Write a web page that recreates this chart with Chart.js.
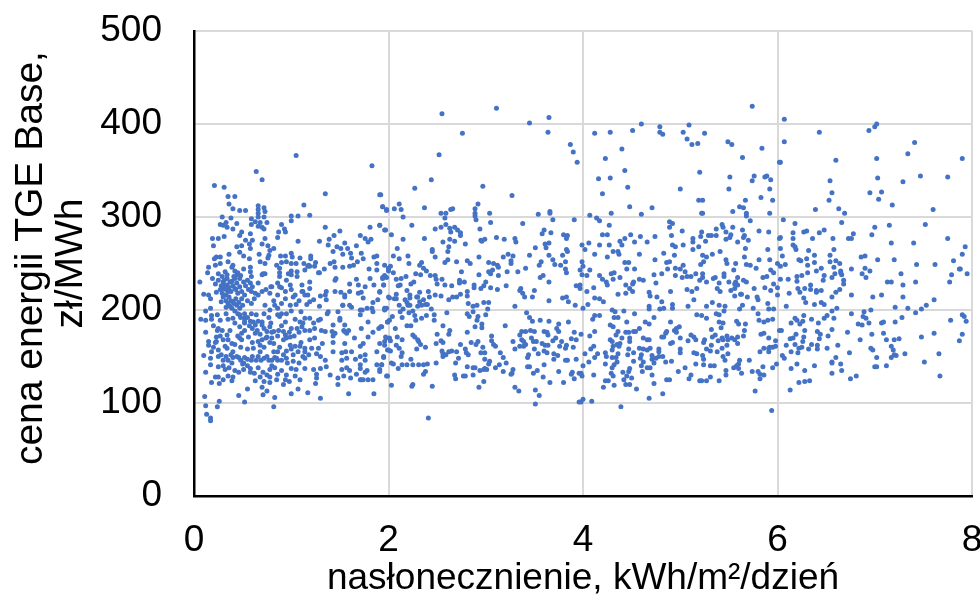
<!DOCTYPE html>
<html>
<head>
<meta charset="utf-8">
<script src="https://cdn.jsdelivr.net/npm/chart.js@4"></script>
<style>
  html, body { margin: 0; padding: 0; background: #fff; }
  #wrap { width: 980px; height: 597px; }
</style>
</head>
<body>
<div id="wrap"><canvas id="priceChart" width="980" height="597"></canvas></div>
<script>
// [insolation kWh/m2/day, price zl/MWh], section by section
const topRightPoints = [[6.07,405],[6.43,391],[6.07,381],[6.94,393],[7.0,397],[7.02,400],[7.41,380],[7.34,368],[7.9,363],[7.02,363],[6.6,361],[6.03,359],[6.54,339],[7.03,342],[7.29,338],[7.47,344],[7.75,343],[6.56,326],[6.53,318],[6.95,326],[7.07,327],[7.04,319],[7.18,313],[6.39,308],[6.63,309],[6.69,304],[7.6,308],[6.06,297],[6.18,293],[6.66,294],[7.0,289],[7.15,291],[7.52,292],[6.27,284],[6.3,285],[6.48,286],[6.43,283],[6.78,282],[6.97,281],[6.36,277],[6.16,277],[6.16,283],[6.57,277],[6.73,277],[6.76,277],[6.03,278],[7.17,272],[7.4,272],[7.75,277],[7.93,268],[6.16,270],[6.18,268],[6.19,265],[6.03,266],[6.32,264],[6.58,265]];
const lowerRightPoints = [[6.05,258],[6.38,259],[6.54,259],[6.86,257],[6.9,258],[6.3,255],[6.22,254],[6.24,253],[7.03,254],[7.2,254],[7.9,260],[6.54,252],[6.6,253],[6.64,250],[6.38,251],[6.31,248],[6.08,249],[6.03,247],[7.43,249],[7.62,249],[7.81,253],[6.45,245],[6.58,246],[6.9,245],[6.95,242],[6.76,244],[7.88,244],[7.87,244],[6.4,242],[6.31,240],[6.65,242],[6.65,240],[6.66,238],[6.59,239],[6.56,235],[6.48,237],[6.25,237],[6.2,236],[6.87,239],[6.91,235],[7.27,239],[7.79,238],[7.95,239],[6.47,232],[6.11,233],[6.03,233],[6.2,231],[6.68,232],[6.68,228],[7.13,230],[7.17,230],[7.29,227],[7.42,230],[7.77,230],[6.34,227],[6.21,223],[6.28,223],[6.34,222],[6.4,221],[6.4,219],[6.45,221],[6.23,219],[6.64,222],[6.6,219],[6.12,218],[6.56,214],[6.76,216],[6.98,214],[7.07,216],[7.29,214],[6.27,213],[7.61,211],[6.45,208],[6.48,206],[6.38,206],[6.29,208],[6.09,204],[6.56,199],[6.61,202],[7.21,203],[7.34,202],[7.53,205],[7.48,201],[7.42,197],[6.89,198],[6.96,200],[6.76,196],[6.27,194],[6.51,194],[6.48,191],[6.58,191],[6.35,190],[6.18,191],[6.2,189],[6.88,193],[6.91,191],[7.28,192],[7.9,195],[7.92,193],[7.78,189],[7.94,188],[6.26,188],[6.14,186],[6.23,185],[6.42,186],[6.83,185],[6.87,184],[6.94,186],[7.07,186],[7.09,187],[7.21,187],[6.56,179],[6.28,178],[6.04,178],[6.41,177],[6.44,174],[6.19,174],[6.52,172],[6.72,176],[6.97,174],[7.09,175],[7.61,175],[7.9,174],[6.27,171],[6.43,169],[6.13,169],[6.16,170],[6.26,166],[6.85,168],[7.12,168],[7.2,168],[7.25,169],[7.48,171],[7.87,167],[6.09,162],[6.18,163],[6.35,163],[6.41,162],[6.41,158],[6.62,162],[6.51,159],[6.25,160],[6.22,159],[6.32,158],[7.17,161],[6.96,159],[6.98,157],[7.19,157],[6.14,155],[6.21,154],[6.74,154],[7.31,153],[7.66,153],[7.2,152],[7.22,151],[7.17,149],[6.05,151],[6.07,148],[6.6,149],[7.02,149],[7.51,144],[6.56,144],[6.56,143],[6.65,142],[6.2,142],[6.38,140],[7.0,139],[7.02,139],[7.12,140],[6.14,137],[6.28,135],[6.66,135],[6.56,132],[6.81,129],[6.75,126],[7.67,129],[6.22,122],[6.28,123],[6.33,124],[6.13,114]];
const topMiddlePoints = [[5.74,419],[4.12,390],[4.28,391],[4.51,393],[4.6,400],[4.79,397],[4.79,391],[4.82,389],[5.03,391],[5.09,399],[5.25,390],[5.07,384],[5.12,378],[5.18,379],[5.49,381],[5.53,378],[5.84,374],[4.4,373],[5.64,364],[6.02,359],[4.23,363],[4.43,350],[5.2,348],[4.16,341],[4.28,342],[5.51,343],[5.76,344],[5.74,339],[5.87,343],[5.89,344],[5.93,340],[4.46,332],[5.0,330],[5.5,330],[5.92,330],[4.2,325],[5.19,318],[5.23,318],[5.67,318],[5.83,321],[5.95,318],[4.48,311],[4.71,310],[5.61,311],[5.65,310],[4.29,304],[4.6,303],[5.22,304],[5.23,304],[5.54,306],[5.68,304],[5.68,301],[5.92,304],[4.07,302],[4.14,299],[4.17,296],[5.72,296],[4.89,295],[4.92,293],[4.89,289],[4.27,291],[5.02,285],[5.43,292],[5.37,287],[5.44,289],[5.54,289],[5.64,286],[5.81,285],[5.91,284],[5.22,284],[5.47,284],[4.2,281],[4.25,281],[4.49,281],[4.59,279],[4.74,279],[4.91,280],[5.21,279],[5.29,280],[5.32,280],[5.37,280],[5.52,281],[5.51,278],[5.47,276],[5.66,280],[5.65,278],[4.43,277],[5.13,277],[6.02,277],[4.38,274],[4.4,270],[4.53,273],[4.66,273],[4.06,272],[3.99,270],[4.17,270],[4.27,270],[5.13,273],[5.26,274],[5.59,273],[5.7,275],[4.92,270],[4.95,268],[5.03,270],[5.19,268],[5.67,266],[5.13,265],[5.9,265],[4.02,265]];
const lowerMiddlePoints = [[4.12,260],[4.25,257],[4.31,263],[4.36,263],[4.37,260],[4.58,260],[4.83,261],[4.94,259],[4.74,254],[4.86,251],[4.89,252],[5.23,259],[5.27,257],[5.33,260],[5.47,254],[5.48,250],[5.41,263],[5.66,257],[5.81,254],[5.92,254],[3.99,252],[4.43,251],[4.47,251],[5.24,252],[5.21,249],[5.57,250],[5.68,249],[5.72,248],[6.0,250],[4.0,247],[3.97,243],[4.07,243],[4.45,244],[4.53,244],[4.87,244],[5.03,248],[5.0,244],[4.95,245],[5.05,241],[4.29,239],[4.32,240],[4.04,237],[3.99,238],[4.17,237],[4.38,235],[4.73,238],[4.81,239],[5.16,239],[5.23,239],[5.23,235],[5.45,239],[5.45,236],[5.59,235],[5.78,245],[5.55,243],[5.85,235],[5.89,236],[5.93,243],[5.96,240],[4.95,237],[5.02,235],[5.07,236],[5.11,236],[4.31,233],[4.2,233],[4.24,230],[4.25,227],[4.58,233],[4.62,232],[5.2,232],[5.27,230],[5.34,234],[5.36,235],[5.5,230],[5.57,230],[5.65,232],[5.68,230],[5.4,229],[4.75,229],[4.52,230],[4.51,228],[4.44,227],[3.97,227],[4.11,224],[4.48,223],[4.51,220],[5.17,223],[5.12,220],[5.07,222],[5.38,223],[5.41,220],[5.52,221],[5.56,223],[5.59,227],[5.56,228],[5.76,223],[5.87,224],[5.93,221],[5.96,228],[6.0,224],[4.04,220],[4.9,220],[4.36,217],[4.44,218],[4.68,219],[4.69,215],[4.76,214],[5.62,217],[5.63,217],[5.56,215],[6.0,216],[4.12,213],[4.17,212],[4.21,209],[4.81,209],[5.14,211],[5.69,214],[5.79,214],[5.8,211],[4.05,206],[4.0,202],[4.92,206],[4.92,202],[5.33,208],[5.4,205],[5.64,205],[5.9,207],[4.68,204],[4.68,201],[4.79,201],[4.83,202],[5.08,204],[5.27,204],[5.46,204],[5.45,199],[5.61,201],[5.75,202],[5.91,201],[5.96,201],[4.3,200],[4.33,198],[4.42,199],[4.53,196],[5.37,196],[5.4,195],[5.8,196],[5.17,195],[5.22,194],[5.27,191],[4.12,194],[4.17,194],[4.1,190],[4.32,192],[4.36,192],[4.73,192],[4.45,187],[4.64,187],[4.68,185],[4.9,187],[5.81,189],[5.86,187],[5.9,189],[5.95,190],[5.4,187],[5.44,186],[5.58,188],[5.6,185],[5.67,185],[5.42,181],[4.28,184],[4.31,182],[4.58,180],[4.99,182],[4.96,180],[4.94,178],[4.96,176],[5.32,179],[5.66,178],[4.44,176],[4.47,176],[4.52,177],[4.54,177],[4.12,177],[4.36,177],[4.86,177],[4.85,175],[3.98,174],[4.07,172],[5.83,174],[5.86,175],[6.02,178],[4.34,173],[5.11,173],[5.14,171],[5.16,168],[4.81,171],[4.83,171],[5.0,170],[5.36,173],[5.33,171],[5.39,167],[5.43,170],[5.44,168],[5.48,172],[5.49,168],[5.53,170],[5.56,168],[5.59,171],[5.59,164],[5.65,172],[4.62,170],[4.66,168],[4.68,168],[4.4,170],[4.48,170],[4.48,166],[5.91,170],[4.28,168],[4.3,166],[4.35,163],[4.38,164],[5.08,167],[5.25,168],[5.24,165],[4.9,164],[4.92,165],[5.98,167],[4.31,161],[4.37,161],[4.3,157],[5.48,162],[5.43,159],[5.32,162],[5.86,159],[5.91,159],[5.92,160],[5.95,160],[5.98,161],[4.11,161],[4.08,158],[4.58,159],[4.62,158],[4.69,159],[4.66,157],[4.78,158],[4.78,155],[4.82,150],[4.47,158],[4.52,154],[5.0,158],[5.0,154],[5.27,158],[5.31,156],[5.38,155],[5.82,155],[5.91,155],[4.02,153],[4.15,153],[4.12,149],[4.23,154],[4.24,150],[4.36,153],[4.34,149],[4.3,149],[4.46,152],[4.6,152],[4.59,148],[4.71,151],[4.71,147],[4.75,148],[4.78,150],[5.14,154],[5.17,153],[5.23,151],[5.24,147],[5.49,153],[5.44,150],[5.46,146],[4.06,144],[4.23,142],[4.52,145],[4.62,144],[4.73,143],[4.85,144],[4.91,145],[5.16,142],[5.24,141],[5.31,140],[5.35,140],[5.71,146],[5.61,146],[5.6,142],[5.58,140],[5.55,138],[5.6,137],[4.35,144],[4.32,141],[4.3,138],[4.0,140],[4.48,137],[4.47,134],[4.6,140],[4.66,138],[4.69,138],[5.05,138],[5.85,139],[5.95,138],[5.99,142],[4.98,134],[4.61,134],[4.41,133],[4.5,127],[4.45,129],[4.42,125],[4.71,130],[5.11,130],[5.09,126],[5.31,128],[5.47,135],[5.47,130],[5.63,132],[5.74,134],[5.8,134],[5.82,131],[5.86,130],[5.82,126],[4.29,132],[4.31,129],[3.98,132],[3.99,129],[4.11,130],[4.23,124],[4.26,124],[5.2,124],[5.22,124],[5.27,124],[5.4,124],[4.86,125],[4.89,125],[4.73,121],[4.44,120],[4.48,120],[4.32,119],[4.21,117],[4.55,115],[5.77,113],[4.82,110],[4.68,105],[4.0,104],[3.98,101],[4.09,102],[4.39,96],[5.94,92]];
const topCentrePoints = [[2.55,411],[3.11,417],[3.45,401],[3.65,407],[3.64,391],[2.76,390],[3.87,378],[3.9,370],[3.94,359],[2.52,367],[2.44,340],[2.27,331],[2.97,333],[3.27,323],[1.91,324],[2.92,314],[2.37,310],[2.11,314],[1.94,311],[2.06,309],[2.13,308],[1.98,308],[2.15,300],[2.89,309],[2.89,304],[2.89,301],[2.9,297],[2.54,304],[2.59,304],[2.64,308],[2.66,309],[2.58,299],[3.04,304],[3.05,294],[3.54,303],[3.66,306],[3.66,304],[3.69,297],[3.91,297],[2.59,292],[2.24,291],[1.91,291],[2.54,289],[2.48,287],[2.63,288],[2.64,284],[2.68,289],[2.71,286],[2.74,283],[2.74,280],[2.94,287],[3.38,293],[3.6,286],[3.58,282],[3.67,283],[1.96,286],[2.03,281],[3.8,281],[3.84,280],[3.83,277],[2.15,276],[2.37,277],[2.63,276],[2.68,274],[2.56,273],[2.95,275],[2.99,276],[2.96,274],[3.11,278],[3.19,276],[3.3,277],[3.31,273],[2.79,271],[2.62,268],[3.61,271],[3.65,272],[3.51,267],[3.62,267],[2.09,266],[2.45,265],[3.83,265]];
const lowerCentrePoints = [[2.05,258],[2.11,255],[2.2,258],[2.48,257],[2.45,263],[2.61,263],[2.93,257],[2.7,252],[2.58,251],[2.61,254],[2.81,253],[2.84,250],[3.03,251],[3.18,257],[3.23,260],[3.28,258],[3.45,259],[3.26,253],[3.26,250],[3.65,259],[3.69,254],[3.71,249],[3.77,248],[3.79,259],[3.84,263],[3.82,252],[3.82,244],[3.83,240],[3.57,252],[3.55,248],[3.41,245],[3.33,241],[3.22,241],[3.08,250],[3.12,248],[3.13,246],[3.07,243],[3.03,241],[3.05,239],[3.13,237],[2.21,250],[2.34,251],[2.32,248],[2.36,245],[2.39,242],[2.43,237],[1.96,248],[2.02,247],[2.0,244],[2.0,242],[2.05,240],[2.75,241],[2.28,239],[2.33,238],[2.93,238],[1.96,237],[1.94,234],[2.18,236],[2.13,234],[2.08,233],[2.12,227],[2.1,226],[2.26,230],[2.23,228],[1.95,227],[2.48,237],[2.49,233],[2.5,228],[2.55,233],[2.58,227],[2.65,226],[2.73,232],[2.73,229],[2.78,230],[2.88,227],[2.88,224],[2.98,226],[3.0,230],[2.95,223],[3.05,224],[3.12,222],[3.21,226],[3.59,237],[3.56,235],[3.65,230],[3.93,226],[3.97,223],[3.36,223],[3.35,221],[3.38,218],[3.4,214],[3.5,221],[3.48,214],[1.91,220],[2.19,221],[2.22,216],[2.22,213],[2.32,219],[2.29,214],[2.3,214],[2.41,220],[2.42,214],[2.48,216],[2.54,215],[2.01,213],[2.06,212],[2.08,217],[2.08,212],[2.17,211],[2.19,208],[2.22,205],[2.11,205],[2.32,209],[2.36,211],[2.34,205],[2.38,206],[2.4,206],[2.3,204],[2.2,205],[2.62,211],[2.66,214],[2.7,214],[2.74,217],[2.81,220],[2.81,215],[2.82,207],[2.98,208],[3.03,208],[3.02,201],[2.87,204],[2.91,205],[2.87,198],[3.3,204],[3.65,210],[3.79,213],[3.83,214],[3.85,209],[3.92,205],[1.96,202],[1.98,202],[2.15,201],[2.12,198],[2.21,197],[2.25,199],[2.44,201],[2.39,194],[2.47,195],[2.47,189],[2.27,194],[2.28,189],[2.34,191],[2.14,192],[2.04,193],[2.01,189],[1.99,187],[2.6,197],[2.81,196],[2.83,193],[2.92,193],[2.91,189],[3.0,195],[3.42,197],[3.45,192],[3.48,188],[3.56,189],[3.65,188],[3.75,185],[3.85,187],[1.92,182],[2.07,180],[2.19,183],[2.23,183],[2.56,183],[2.89,182],[2.96,185],[2.96,181],[3.2,183],[3.37,177],[3.41,177],[3.46,178],[3.5,177],[3.35,173],[3.6,177],[3.63,176],[3.64,173],[3.73,180],[3.75,177],[3.91,176],[2.63,178],[2.62,174],[2.5,174],[2.81,176],[2.25,173],[2.27,171],[2.3,168],[2.31,166],[2.33,163],[2.38,160],[2.09,171],[2.14,168],[2.01,170],[1.97,171],[1.91,164],[2.02,167],[1.96,162],[2.49,164],[2.54,167],[2.56,165],[2.74,163],[2.85,165],[2.92,166],[2.9,163],[3.06,172],[3.06,167],[3.08,163],[3.1,161],[3.28,166],[3.3,158],[3.37,168],[3.39,166],[3.41,163],[3.35,161],[3.39,161],[3.47,170],[3.49,166],[3.52,166],[3.58,164],[3.61,162],[3.64,162],[3.69,167],[3.72,170],[3.78,166],[3.88,169],[3.93,168],[3.83,162],[3.76,161],[3.82,159],[3.9,160],[2.08,162],[2.11,159],[1.99,157],[2.02,156],[2.29,158],[2.55,156],[2.56,153],[2.56,150],[2.59,152],[2.62,155],[2.65,156],[2.7,155],[2.79,158],[2.8,154],[2.82,152],[2.97,160],[2.95,154],[2.99,154],[3.15,154],[3.18,149],[3.5,158],[3.54,153],[3.6,156],[3.63,154],[3.44,152],[3.43,149],[3.7,153],[3.74,151],[3.7,147],[3.82,146],[3.84,146],[3.93,147],[2.14,154],[2.13,150],[1.95,150],[2.23,147],[2.72,148],[2.69,143],[2.99,147],[3.04,145],[3.03,142],[2.99,137],[3.21,143],[3.6,141],[3.45,139],[3.43,139],[2.03,143],[2.05,142],[2.14,141],[2.19,141],[2.25,141],[2.31,141],[2.36,141],[2.4,142],[2.49,143],[1.93,141],[2.1,137],[2.81,139],[2.87,138],[2.89,138],[3.1,138],[3.14,141],[3.18,134],[2.94,135],[3.01,136],[2.98,136],[3.28,136],[3.27,132],[3.26,131],[3.53,135],[3.49,132],[3.59,128],[3.75,134],[3.88,131],[3.89,133],[3.96,132],[3.91,126],[1.91,134],[1.99,129],[2.38,134],[2.36,131],[2.68,130],[2.69,126],[2.77,129],[2.79,129],[2.87,130],[2.98,123],[2.93,117],[3.66,122],[3.8,122],[2.03,119],[2.25,120],[2.24,118],[2.45,118],[3.3,117],[3.34,113],[3.51,114],[3.55,108],[3.51,99],[3.96,101],[2.41,84]];
const topLeftPoints = [[1.05,366],[0.64,349],[1.83,355],[0.7,340],[0.21,334],[0.31,332],[1.35,325],[0.35,322],[0.42,322],[1.92,324],[0.36,314],[0.4,309],[0.47,307],[0.53,307],[0.66,312],[0.66,308],[0.72,310],[0.73,306],[1.13,313],[1.94,311],[1.98,307],[0.66,304],[0.66,300],[0.72,300],[1.0,301],[1.07,301],[1.19,302],[0.29,300],[0.38,299],[0.59,298],[1.0,296],[0.27,292],[0.3,291],[0.33,294],[0.34,289],[0.4,287],[0.44,293],[0.59,292],[0.63,295],[0.68,294],[0.75,294],[0.66,290],[0.7,289],[0.72,287],[0.9,292],[0.87,284],[0.93,287],[0.94,284],[1.35,289],[1.5,285],[1.44,280],[1.39,276],[1.81,289],[1.91,291],[1.97,286],[0.49,284],[0.47,280],[0.58,282],[0.86,278],[0.19,277],[0.25,277],[0.31,279],[0.53,275],[0.6,275],[0.73,277],[1.07,274],[1.29,274],[1.71,280],[1.76,277],[1.82,276],[1.79,273],[0.2,269],[0.44,268],[0.49,269],[0.57,271],[0.58,266],[0.7,271],[0.76,269],[0.82,266],[1.38,270],[1.47,268],[1.51,266],[1.55,272],[1.58,266],[1.67,269],[0.47,262],[0.51,258],[0.57,255],[0.78,264],[0.77,259],[0.76,256],[0.73,250],[0.36,260],[0.35,252],[0.23,257],[0.21,255],[0.27,257],[1.43,263],[1.53,260],[1.61,261],[1.62,256],[1.72,261],[1.74,255],[1.85,257],[1.88,258],[1.88,250],[0.67,260],[0.68,252],[0.89,258],[0.94,258],[1.0,261],[1.01,257],[1.09,256],[1.2,258],[1.2,255],[0.9,251],[0.95,252],[1.0,250],[1.05,250],[1.13,250],[1.18,248],[1.25,251],[1.24,247],[1.4,250],[1.44,252],[1.45,246],[0.27,250],[0.22,248],[0.15,246],[0.4,248],[0.39,246],[0.58,246],[0.85,248],[0.88,245],[0.88,240],[1.19,247],[1.14,243],[1.17,247],[1.34,244],[1.29,240],[1.53,246],[1.6,247],[1.64,248],[1.68,252],[0.25,239],[0.32,241],[0.34,238],[0.42,242],[0.44,238],[0.51,244],[0.58,241],[0.71,239],[0.73,239],[0.97,239],[1.0,242],[1.06,241],[1.8,244],[1.88,243],[2.0,245],[0.14,240],[1.28,240],[0.19,234],[0.34,234],[0.42,234],[0.47,234],[0.59,236],[0.7,238],[0.88,236],[1.0,238],[1.06,236],[1.46,234],[1.67,233],[1.81,234],[1.94,235],[1.98,235]];
const lowerLeftPoints = [[0.06,230],[0.22,228],[0.3,230],[0.34,227],[0.39,231],[0.44,229],[0.51,230],[0.58,229],[0.66,229],[0.79,225],[0.86,229],[0.88,225],[0.99,227],[1.11,227],[1.19,230],[1.19,223],[1.45,232],[1.6,228],[1.69,227],[1.76,225],[1.85,227],[1.95,227],
  [0.1,217],[0.15,216],[0.17,212],[0.23,219],[0.29,218],[0.3,223],[0.33,216],[0.35,220],[0.42,223],[0.49,220],[0.52,216],[0.59,220],[0.66,216],[0.7,220],[0.74,222],[0.78,218],[0.86,216],[0.94,220],[1.0,222],[1.04,216],[1.11,220],[1.14,216],[1.17,216],[1.36,220],[1.35,216],[1.51,219],[1.55,216],[1.6,220],[1.69,218],[1.72,219],[1.74,213],[1.91,219],[2.0,214],[1.23,211],[1.36,211],[1.53,205],[1.55,214],
  [0.17,202],[0.28,209],[0.35,207],[0.4,209],[0.44,205],[0.39,202],[0.47,202],[0.59,207],[0.73,205],[0.83,205],[0.86,202],[0.99,205],[1.05,206],[1.16,206],[1.19,209],[1.29,204],[1.53,205],[1.48,198],[1.62,203],[1.71,200],[1.78,202],[1.84,208],[1.89,211],[1.83,202],[1.96,200],
  [0.12,199],[0.18,194],[0.07,190],[0.12,189],[0.18,190],[0.24,195],[0.27,189],[0.33,196],[0.35,190],[0.4,191],[0.47,195],[0.52,196],[0.59,196],[0.64,195],[0.52,191],[0.7,187],[0.77,192],[0.86,195],[0.9,196],[0.95,196],[1.0,199],[1.1,198],[0.88,193],[1.09,187],[1.14,191],[1.19,191],[1.28,189],[1.37,196],[1.38,198],[1.5,191],[1.73,200],[1.71,195],[1.79,187],[1.99,187],[1.84,198],
  [0.2,183],[0.29,178],[0.24,178],[0.34,173],[0.42,186],[0.47,182],[0.52,186],[0.57,183],[0.61,187],[0.65,178],[0.7,184],[0.75,177],[0.82,177],[0.87,178],[0.92,177],[1.0,180],[1.06,180],[1.11,182],[1.14,178],[1.23,186],[1.24,180],[1.31,178],[1.35,177],[1.42,177],[1.43,184],[1.5,189],[1.55,184],[1.54,178],[1.59,178],[1.57,175],[1.72,180],[1.84,176],[1.9,180],[1.93,182],[0.12,176],[0.25,180],[0.37,178],[0.49,175],[0.63,175],[0.79,186],[0.94,173],[0.99,171],[1.19,178],
  [0.23,171],[0.15,166],[0.23,166],[0.15,162],[0.35,168],[0.39,164],[0.32,161],[0.47,170],[0.49,168],[0.56,171],[0.66,166],[0.7,168],[0.68,162],[0.61,159],[0.75,171],[0.8,176],[0.92,168],[0.95,170],[0.82,164],[0.99,162],[1.04,161],[1.09,161],[1.14,159],[1.19,168],[1.24,170],[1.32,164],[1.43,165],[1.43,172],[1.55,164],[1.55,177],[1.74,164],[1.71,161],[1.79,171],[1.96,166],[1.98,170],
  [0.18,155],[0.25,157],[0.17,148],[0.1,151],[0.34,159],[0.4,155],[0.25,150],[0.3,146],[0.35,146],[0.4,149],[0.46,149],[0.52,149],[0.59,146],[0.64,146],[0.69,146],[0.68,155],[0.82,155],[0.86,155],[0.83,149],[0.92,152],[0.95,148],[0.77,146],[0.86,146],[1.02,152],[1.07,155],[1.14,155],[1.21,159],[1.28,159],[1.26,153],[1.35,146],[1.43,155],[1.52,154],[1.56,155],[1.62,155],[1.52,146],[1.57,148],[1.66,147],[1.71,150],[1.76,152],[1.76,146],[1.88,155],[1.95,149],[2.0,157],[1.14,148],
  [0.17,141],[0.25,139],[0.32,136],[0.39,143],[0.46,133],[0.51,136],[0.58,137],[0.58,133],[0.66,138],[0.71,133],[0.78,136],[0.86,131],[0.83,138],[1.0,137],[1.05,136],[1.14,137],[1.23,136],[1.3,137],[1.36,139],[1.52,136],[1.57,138],[1.71,141],[1.71,137],[1.78,135],[1.88,141],[1.93,141],[1.98,129],[0.12,133],[0.22,128],[0.25,128],[0.3,125],[0.35,129],[0.4,128],[0.51,143],[0.78,128],[0.85,125],[1.04,129],[1.26,131],[1.26,127],[1.48,127],[1.54,129],[1.61,127],[1.67,131],[1.76,133],[1.71,125],[1.74,125],[1.79,125],[1.84,125],[1.91,136],
  [0.18,122],[0.26,121],[0.39,124],[0.63,124],[0.72,123],[0.78,122],[0.94,125],[0.92,120],[0.98,123],[1.09,125],[1.25,121],[1.48,120],[1.72,125],[0.55,115],[0.7,117],[0.75,113],[0.71,109],[0.83,106],[1.0,110],[1.07,115],[1.17,111],[1.59,110],[1.85,110],[0.11,107],[0.26,102],[0.46,108],[0.52,101],[1.3,105],[0.12,97],[0.24,96],[0.82,96],[0.13,88],[0.17,84],[0.17,81]];
// the thick cluster at low insolation, where single dots run together
const denseLeftPoints = [[0.31,226],[0.33,222],[0.36,224],[0.38,220],[0.4,226],[0.43,222],[0.45,218],[0.47,225],[0.49,212],[0.36,214],[0.38,210],[0.41,207],[0.43,212],[0.46,208],[0.33,210],[0.3,214],[0.27,222],[0.28,226],[0.25,232],[0.29,236],[0.31,232],[0.37,230],[0.41,236],[0.45,240],[0.48,237],[0.53,226],[0.55,232],[0.56,222],[0.6,225],[0.63,218],[0.62,212],[0.55,210],[0.5,205],[0.37,204],[0.33,203],[0.42,199],[0.45,196],[0.48,192],[0.52,188],[0.55,192],[0.58,188],[0.63,184],[0.66,188],[0.6,180],[0.68,174],[0.72,180],[0.78,182],[0.74,170],[0.8,170],[0.86,172],[0.9,183],[0.94,187],[0.98,176],[1.03,172],[1.08,176],[1.12,186],[1.04,190],[0.72,196],[0.78,200],[0.82,210],[0.9,207],[0.94,212],[1.02,214],[1.08,210],[1.12,220],[0.8,225],[0.9,224],[0.95,232],[0.28,152],[0.33,150],[0.38,152],[0.44,150],[0.48,146],[0.55,147],[0.6,150],[0.66,150],[0.72,148],[0.75,150],[0.8,146],[0.85,148],[0.9,146],[0.96,143],[1.02,145],[1.08,143],[1.12,150],[1.18,152],[0.42,163],[0.48,160],[0.55,158],[0.6,165],[0.72,160],[0.78,165],[0.88,160],[0.95,156],[1.0,158],[1.1,165],[0.3,168],[0.27,172],[0.2,160],[0.22,165],[0.45,172],[0.52,178],[0.3,140],[0.36,138],[0.42,135],[0.5,142],[0.55,140],[0.62,132],[0.68,128],[0.75,130],[0.8,140],[0.9,135],[0.95,130],[1.3,215],[1.45,220],[1.6,205],[1.3,190],[1.45,175],[1.65,170],[1.3,150],[1.4,130],[1.6,135]];

const xTickLabels = [0, 2, 4, 6, 8];
const yTickLabels = [0, 100, 200, 300, 400, 500];
const xTitle = 'nasłonecznienie, kWh/m²/dzień';
const yTitle = [' cena energii TGE Base,', 'zł/MWh'];

const allPoints = [...topRightPoints, ...lowerRightPoints, ...topMiddlePoints, ...lowerMiddlePoints,
  ...topCentrePoints, ...lowerCentrePoints, ...topLeftPoints, ...lowerLeftPoints, ...denseLeftPoints];

const font = { family: '"Liberation Sans", Arial, sans-serif' };

new Chart(document.getElementById('priceChart').getContext('2d'), {
  type: 'scatter',
  data: {
    datasets: [{
      data: allPoints.map(p => ({ x: p[0], y: p[1] })),
      backgroundColor: '#4472C4',
      borderColor: '#4472C4',
      borderWidth: 0,
      pointRadius: 2.5
    }]
  },
  options: {
    responsive: false,
    animation: false,
    layout: { autoPadding: false, padding: { top: 31, right: 8 } },
    plugins: { legend: { display: false }, tooltip: { enabled: false } },
    scales: {
      x: {
        type: 'linear',
        min: 0,
        max: 8,
        afterFit: s => { s.height = 101; s.paddingLeft = 0; s.paddingRight = 0; },
        afterBuildTicks: s => { s.ticks = xTickLabels.map(v => ({ value: v })); },
        grid: { color: '#D9D9D9', lineWidth: 2, drawTicks: false },
        border: { color: '#000', width: 2.5 },
        ticks: { color: '#000', padding: 23, maxRotation: 0, autoSkip: false, font: { ...font, size: 37 } },
        title: { display: true, text: xTitle, color: '#000', padding: { top: 0, bottom: 0 }, font: { ...font, size: 37, lineHeight: 1 } }
      },
      y: {
        type: 'linear',
        min: 0,
        max: 500,
        afterFit: s => { s.width = 194; s.paddingTop = 0; s.paddingBottom = 0; },
        afterBuildTicks: s => { s.ticks = yTickLabels.map(v => ({ value: v })); },
        grid: { color: '#D9D9D9', lineWidth: 2, drawTicks: false },
        border: { color: '#000', width: 2.5 },
        ticks: { color: '#000', padding: 32, autoSkip: false, font: { ...font, size: 37 } },
        title: { display: true, text: yTitle, color: '#000', padding: { top: 11, bottom: 0 }, font: { ...font, size: 39, lineHeight: 1.03 } }
      }
    }
  }
});
</script>
</body>
</html>
